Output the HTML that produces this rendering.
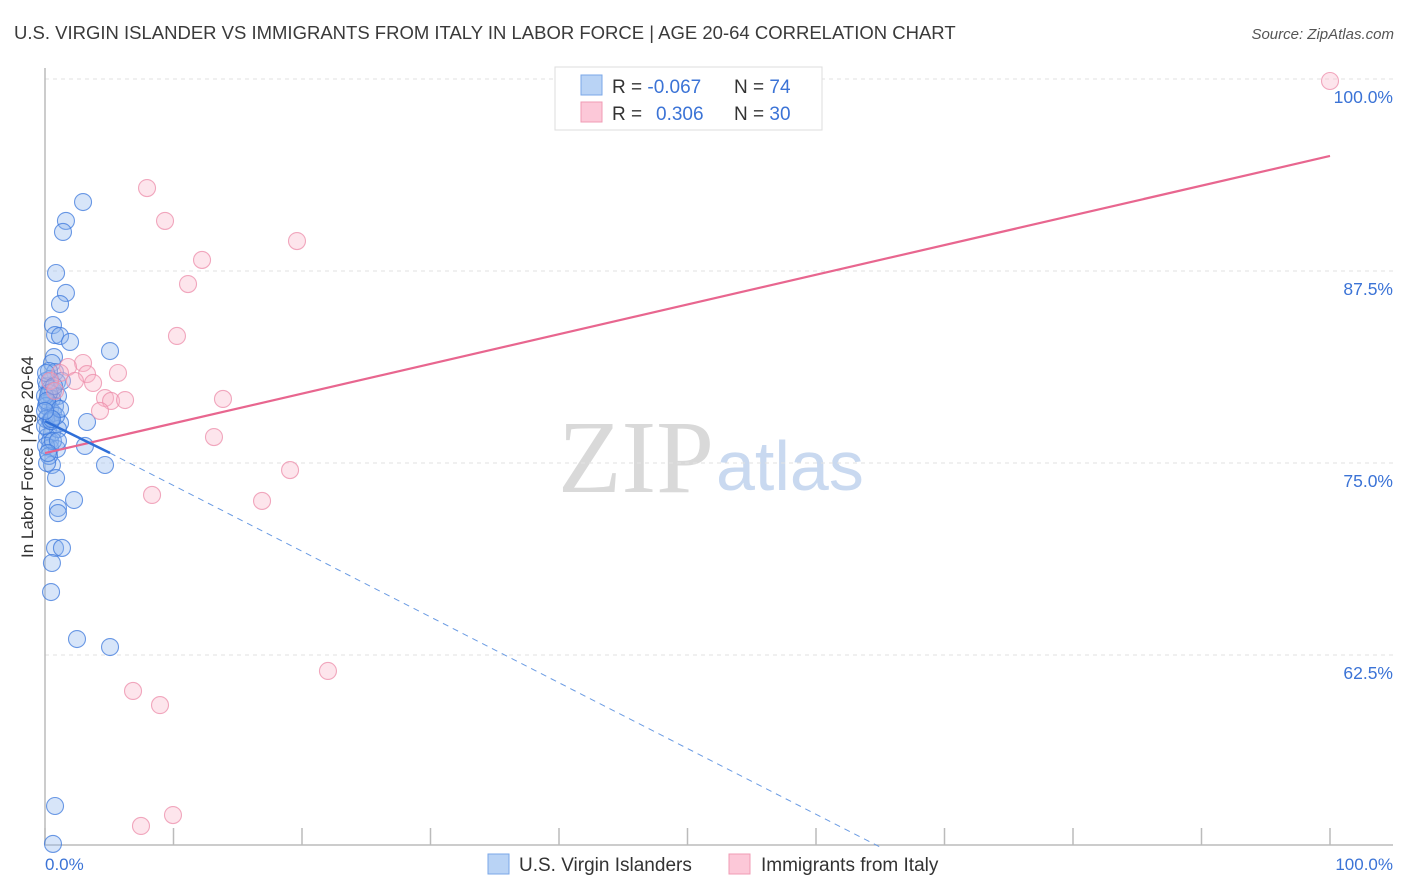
<!DOCTYPE html>
<html><head><meta charset="utf-8"><style>
body{margin:0;background:#fff;font-family:"Liberation Sans",sans-serif}
svg{display:block}
</style></head><body>
<svg id="chart" width="1406" height="892" xmlns="http://www.w3.org/2000/svg">
<text x="14" y="39" font-size="18.5" fill="#3a3a3a">U.S. VIRGIN ISLANDER VS IMMIGRANTS FROM ITALY IN LABOR FORCE | AGE 20-64 CORRELATION CHART</text>
<text x="1394" y="39" font-size="15" fill="#555" text-anchor="end" font-style="italic">Source: ZipAtlas.com</text>
<text x="714" y="492" font-size="104" text-anchor="end" fill="#d9d9d9" font-family="Liberation Serif,serif">ZIP</text>
<text x="716" y="490" font-size="70" fill="#c9d9f0">atlas</text>
<g id="grid"></g>
<line x1="45" y1="68" x2="45" y2="845" stroke="#bbb" stroke-width="1.5"/>
<line x1="45" y1="845" x2="1393" y2="845" stroke="#bbb" stroke-width="1.5"/>
<text transform="translate(33,457) rotate(-90)" font-size="17" fill="#333" text-anchor="middle">In Labor Force | Age 20-64</text>
<text x="45" y="870" font-size="17" fill="#3b73d6">0.0%</text>
<text x="1393" y="870" font-size="17" fill="#3b73d6" text-anchor="end">100.0%</text>
<g id="marks"></g>
<g>
<rect x="555" y="67" width="267" height="63" fill="#fff" stroke="#ddd"/>
<rect x="581" y="75" width="21" height="20" fill="#b9d3f5" stroke="#7aa7e8"/>
<rect x="581" y="102" width="21" height="20" fill="#fcc8d8" stroke="#f09bb4"/>
<text x="612" y="93" font-size="19" fill="#333">R = <tspan fill="#3b73d6">-0.067</tspan><tspan x="734">N = </tspan><tspan fill="#3b73d6">74</tspan></text>
<text x="612" y="120" font-size="19" fill="#333">R = <tspan x="656" fill="#3b73d6">0.306</tspan><tspan x="734">N = </tspan><tspan fill="#3b73d6">30</tspan></text>
</g>
<g>
<rect x="488" y="854" width="21" height="20" fill="#b9d3f5" stroke="#7aa7e8"/>
<text x="519" y="871" font-size="19" fill="#333">U.S. Virgin Islanders</text>
<rect x="729" y="854" width="21" height="20" fill="#fcc8d8" stroke="#f09bb4"/>
<text x="761" y="871" font-size="19" fill="#333">Immigrants from Italy</text>
</g>
</svg>
<script>
const yTicks=[100,87.5,75,62.5];
const yTickLabels=["100.0%","87.5%","75.0%","62.5%"];
const xTicks=[0,10,20,30,40,50,60,70,80,90,100];
const blueX=[2.96,1.63,1.4,0.86,1.63,1.17,0.62,0.78,1.17,1.95,5.06,0.7,0.54,0.78,0.39,0.93,0.16,0.39,0.62,0.23,1.01,0.54,0.16,0.39,0.62,0.23,3.27,0.39,1.17,0.23,0.54,0.16,0.39,3.11,0.39,0.93,4.67,0.54,0.86,2.26,1.01,1.01,0.78,1.32,0.54,0.47,2.49,5.06,0.78,0.62,0.08,0.31,0.08,0.78,0.08,1.01,0.08,0.31,0.16,1.32,0.0,0.47,0.62,1.01,0.0,0.86,0.31,0.16,1.17,0.23,0.08,0.7,0.54,0.0];
const blueY=[91.99,90.76,90.04,87.37,86.07,85.35,83.98,83.33,83.27,82.88,82.29,81.9,81.51,80.92,80.47,80.27,80.01,79.82,79.69,79.36,79.36,79.17,78.91,78.52,78.26,78.06,77.67,77.73,77.6,77.21,76.95,76.69,76.43,76.11,75.98,75.91,74.87,74.87,74.02,72.59,72.07,71.74,69.47,69.47,68.49,66.6,63.54,63.02,52.67,50.2,80.34,79.56,78.71,78.71,77.86,77.21,76.11,75.46,75.0,80.34,77.41,77.73,76.43,76.43,79.36,78.06,80.99,79.04,78.52,75.65,80.86,80.01,77.86,78.39];
const pinkX=[100,7.94,9.34,19.61,12.22,11.13,10.27,2.96,1.79,5.68,3.27,2.33,3.74,4.67,5.14,6.23,13.85,4.28,13.15,19.07,8.33,16.89,22.02,6.85,8.95,9.96,7.47,1.17,0.39,0.78];
const pinkY=[99.87,92.9,90.76,89.45,88.22,86.65,83.27,81.51,81.25,80.86,80.79,80.34,80.21,79.23,79.04,79.1,79.17,78.39,76.69,74.54,72.92,72.53,61.46,60.16,59.24,52.08,51.37,80.86,80.34,79.69];
const pinkTrend=[[0,75.65],[100,94.99]];
const blueTrend=[[0,77.73],[5.06,75.65]];
const blueDash=[[5.06,75.65],[64.98,50]];
const xs=p=>45+p*12.85;
const ys=v=>79+(100-v)*15.36;
const NS="http://www.w3.org/2000/svg";
function mk(t,a,parent){const e=document.createElementNS(NS,t);for(const k in a)e.setAttribute(k,a[k]);parent.appendChild(e);return e;}
const grid=document.getElementById('grid'),marks=document.getElementById('marks');
yTicks.forEach((v,i)=>{
 const l=mk('line',{x1:45,x2:1393,y1:ys(v),y2:ys(v),stroke:'#e2e2e2','stroke-dasharray':'4,4'},grid);
 
 
 const t=mk('text',{x:1393,y:ys(v)+24,'font-size':17.5,fill:'#3b73d6','text-anchor':'end'},grid);
 t.textContent=yTickLabels[i];
 
 
});
xTicks.forEach(p=>{
 const l=mk('line',{x1:xs(p),x2:xs(p),y1:828,y2:845,stroke:'#bbb','stroke-width':1.5},grid);
 
 
});
blueX.forEach((x,i)=>{
 const c=mk('circle',{cx:xs(x),cy:ys(blueY[i]),r:8.5,fill:'rgba(140,180,238,0.35)',stroke:'rgba(60,120,220,0.75)','stroke-width':1.1},marks);
 
 
});
pinkX.forEach((x,i)=>{
 const c=mk('circle',{cx:xs(x),cy:ys(pinkY[i]),r:8.5,fill:'rgba(248,180,200,0.35)',stroke:'rgba(236,140,170,0.75)','stroke-width':1.1},marks);
 
 
});
let l=mk('line',{x1:xs(pinkTrend[0][0]),y1:ys(pinkTrend[0][1]),x2:xs(pinkTrend[1][0]),y2:ys(pinkTrend[1][1]),stroke:'#e8668f','stroke-width':2.2},marks);


l=mk('line',{x1:xs(blueTrend[0][0]),y1:ys(blueTrend[0][1]),x2:xs(blueTrend[1][0]),y2:ys(blueTrend[1][1]),stroke:'#2f6fd8','stroke-width':2.5},marks);


l=mk('line',{x1:xs(blueDash[0][0]),y1:ys(blueDash[0][1]),x2:xs(blueDash[1][0]),y2:ys(blueDash[1][1]),stroke:'#6a9be3','stroke-width':1,'stroke-dasharray':'6,5'},marks);


</script>
</body></html>
